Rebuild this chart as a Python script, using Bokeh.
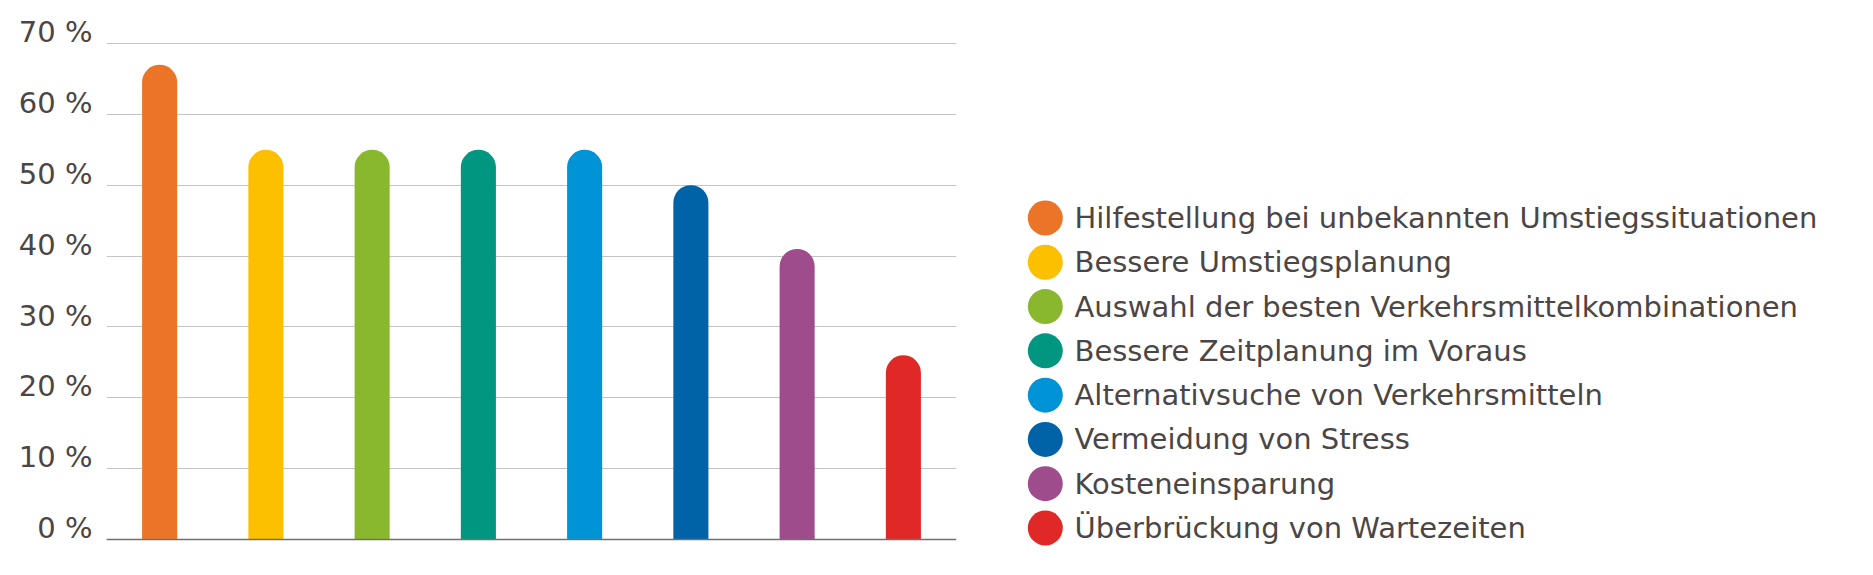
from bokeh.plotting import figure
from bokeh.layouts import row
from bokeh.models import (FactorRange, Range1d, FixedTicker, Span, ColumnDataSource,
                          LinearAxis, Grid)
from bokeh.core.properties import value
from bokeh.embed import file_html
from bokeh.resources import INLINE

categories = [
    "Hilfestellung bei unbekannten Umstiegssituationen",
    "Bessere Umstiegsplanung",
    "Auswahl der besten Verkehrsmittelkombinationen",
    "Bessere Zeitplanung im Voraus",
    "Alternativsuche von Verkehrsmitteln",
    "Vermeidung von Stress",
    "Kosteneinsparung",
    "Überbrückung von Wartezeiten",
]
values = [67, 55, 55, 55, 55, 50, 41, 26]
colors = ["#EB7426", "#FCC000", "#89B72E", "#00967F", "#0094D6", "#0063A7", "#9F4C8D", "#E02826"]
tick_values = [0, 10, 20, 30, 40, 50, 60, 70]
tick_labels = ["0 %", "10 %", "20 %", "30 %", "40 %", "50 %", "60 %", "70 %"]

FONT = "DejaVu Sans"
TEXT_COLOR = "#4b4645"

PX_PER_UNIT = 496 / 70
Y_MAX = 70 + 14 / PX_PER_UNIT     # head room above the 70 % line
Y_MIN = -21 / PX_PER_UNIT         # room below the base line (for the legend panel)
LABEL_LIFT = 1.6                  # tick labels sit just above their grid line

src = ColumnDataSource(dict(cat=categories, val=values, col=colors))

p = figure(
    width=968, height=567, title=None,
    x_range=FactorRange(*categories, range_padding=0),
    y_range=Range1d(Y_MIN, Y_MAX),
    x_axis_location=None, y_axis_location=None,
    output_backend="svg", toolbar_location=None,
    min_border_left=106, min_border_right=12, min_border_top=29, min_border_bottom=7,
)
p.outline_line_color = None
p.grid.visible = False
p.extra_y_ranges = {"lab": Range1d(Y_MIN - LABEL_LIFT, Y_MAX - LABEL_LIFT)}

p.add_layout(Grid(dimension=1, ticker=FixedTicker(ticks=tick_values),
                  grid_line_color="#c4c4c4", grid_line_width=1.2))

p.vbar(x="cat", bottom=0, top="val", width=0.33, fill_color="col", line_color=None,
       border_radius=(18, 18, 0, 0), source=src)

ya = LinearAxis(y_range_name="lab", ticker=FixedTicker(ticks=tick_values))
ya.major_label_overrides = {v: l for v, l in zip(tick_values, tick_labels)}
ya.axis_line_color = None
ya.major_tick_line_color = None
ya.minor_tick_line_color = None
ya.major_tick_out = 0
ya.major_tick_in = 0
ya.minor_tick_out = 0
ya.major_label_standoff = 14
ya.major_label_text_font = FONT
ya.major_label_text_font_size = "29px"
ya.major_label_text_color = TEXT_COLOR
p.add_layout(ya, "left")

p.add_layout(Span(location=0, dimension="width", line_color="#707070", line_width=1.5))

# legend panel (frame aligned with the chart frame: 531 px tall)
idx = list(range(len(categories)))
lsrc = ColumnDataSource(dict(i=idx, lab=categories, col=colors))
leg = figure(
    width=897, height=567, title=None,
    x_range=Range1d(0, 897), y_range=Range1d(7.7339, -4.2564),
    x_axis_location=None, y_axis_location=None,
    output_backend="svg", toolbar_location=None,
    min_border_left=0, min_border_right=0, min_border_top=29, min_border_bottom=7,
)
leg.outline_line_color = None
leg.grid.visible = False
leg.scatter(x=76.8, y="i", size=35, fill_color="col", line_color=None, source=lsrc)
leg.text(x=106, y="i", text="lab", text_font=value(FONT), text_font_size="29px",
         text_color=TEXT_COLOR, text_baseline="middle", text_align="left", source=lsrc)

layout = row(p, leg)
open("out.html", "w").write(file_html(layout, INLINE))
